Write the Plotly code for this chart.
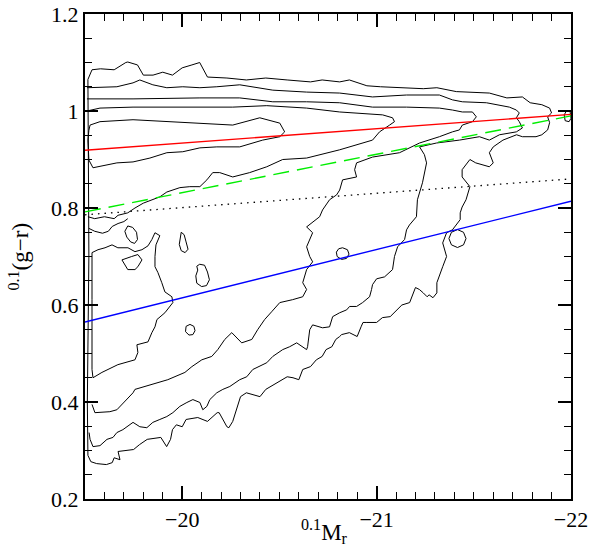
import plotly.graph_objects as go

# ---------------- straight relations (x = 0.1M_r, y = 0.1(g-r)) ----------------
line_mag = [-19.5, -22.0]
red_col = [0.919, 0.993]
green_col = [0.792, 0.990]
dotted_col = [0.786, 0.860]
blue_col = [0.565, 0.814]

# ---------------- contour paths ----------------
L1_mag = [-19.515, -19.536, -19.58, -19.65, -19.71, -19.72, -19.77, -19.80, -19.85, -19.90, -19.95, -20.00, -20.05, -20.09, -20.13, -20.23, -20.33, -20.43, -20.54, -20.66, -20.72, -20.81, -20.86, -20.95, -21.02, -21.12, -21.24, -21.31, -21.41, -21.58, -21.67, -21.75, -21.79, -21.85, -21.89, -21.90, -21.88, -21.89, -21.88, -21.85, -21.82, -21.75, -21.72, -21.65, -21.60, -21.58, -21.60, -21.58, -21.51, -21.48, -21.44, -21.44, -21.48, -21.46, -21.44, -21.43, -21.43, -21.39, -21.36, -21.34, -21.36, -21.34, -21.32, -21.31, -21.31, -21.29, -21.27, -21.26, -21.24, -21.22, -21.20, -21.18, -21.17, -21.13, -21.12, -21.10, -21.07, -21.03, -21.02, -21.00, -20.95, -20.93, -20.92, -20.91, -20.90, -20.86, -20.82, -20.81, -20.79, -20.77, -20.74, -20.72, -20.69, -20.66, -20.62, -20.60, -20.57, -20.54, -20.49, -20.43, -20.40, -20.33, -20.30, -20.26, -20.24, -20.23, -20.19, -20.18, -20.13, -20.08, -20.02, -20.00, -19.97, -19.95, -19.94, -19.92, -19.89, -19.82, -19.78, -19.75, -19.67, -19.68, -19.65, -19.64, -19.61, -19.56, -19.53, -19.515, -19.512, -19.515, -19.52, -19.518, -19.515, -19.515]
L1_col = [1.065, 1.085, 1.087, 1.085, 1.100, 1.101, 1.095, 1.074, 1.074, 1.080, 1.074, 1.089, 1.095, 1.100, 1.070, 1.068, 1.064, 1.068, 1.064, 1.060, 1.064, 1.060, 1.064, 1.052, 1.050, 1.048, 1.046, 1.048, 1.040, 1.037, 1.027, 1.029, 1.017, 1.013, 1.006, 0.996, 0.988, 0.976, 0.961, 0.951, 0.947, 0.947, 0.951, 0.940, 0.926, 0.914, 0.893, 0.885, 0.893, 0.900, 0.879, 0.864, 0.844, 0.817, 0.802, 0.790, 0.776, 0.755, 0.749, 0.728, 0.700, 0.679, 0.658, 0.646, 0.625, 0.615, 0.621, 0.617, 0.625, 0.632, 0.636, 0.617, 0.605, 0.600, 0.596, 0.590, 0.576, 0.574, 0.570, 0.564, 0.564, 0.564, 0.555, 0.543, 0.535, 0.543, 0.539, 0.535, 0.529, 0.514, 0.508, 0.494, 0.487, 0.473, 0.467, 0.446, 0.450, 0.452, 0.440, 0.426, 0.411, 0.419, 0.411, 0.360, 0.347, 0.349, 0.378, 0.378, 0.360, 0.368, 0.364, 0.349, 0.353, 0.343, 0.323, 0.308, 0.327, 0.323, 0.312, 0.302, 0.298, 0.281, 0.285, 0.275, 0.271, 0.273, 0.277, 0.290, 0.400, 0.550, 0.700, 0.850, 1.000, 1.065]

L2_mag = [-19.51, -19.664, -19.747, -19.782, -19.849, -19.921, -20.003, -20.091, -20.178, -20.296, -20.466, -20.640, -20.810, -20.979, -21.154, -21.323, -21.390, -21.441, -21.565, -21.616, -21.683, -21.719, -21.734, -21.719, -21.734, -21.750, -21.719, -21.632, -21.580, -21.529, -21.426, -21.308, -21.221, -21.246, -21.257, -21.236, -21.210, -21.205, -21.169, -21.154, -21.144, -21.108, -21.092, -21.082, -21.041, -21.000, -20.979, -20.974, -20.964, -20.928, -20.897, -20.861, -20.846, -20.810, -20.774, -20.758, -20.722, -20.671, -20.656, -20.645, -20.640, -20.589, -20.553, -20.517, -20.466, -20.435, -20.363, -20.332, -20.296, -20.245, -20.209, -20.178, -20.142, -20.127, -20.106, -20.091, -20.055, -20.024, -19.988, -19.952, -19.921, -19.885, -19.849, -19.818, -19.782, -19.747, -19.716, -19.695, -19.664, -19.644, -19.613, -19.577, -19.541, -19.526, -19.521]
L2_col = [1.048, 1.050, 1.058, 1.064, 1.054, 1.048, 1.050, 1.048, 1.050, 1.054, 1.043, 1.039, 1.037, 1.029, 1.033, 1.033, 1.023, 1.019, 1.017, 1.013, 1.008, 1.002, 0.996, 0.986, 0.978, 0.965, 0.957, 0.951, 0.940, 0.947, 0.940, 0.934, 0.926, 0.910, 0.893, 0.852, 0.817, 0.782, 0.765, 0.755, 0.735, 0.720, 0.700, 0.673, 0.658, 0.654, 0.642, 0.632, 0.617, 0.605, 0.597, 0.597, 0.590, 0.584, 0.576, 0.555, 0.553, 0.559, 0.549, 0.514, 0.508, 0.522, 0.514, 0.508, 0.494, 0.481, 0.467, 0.452, 0.446, 0.432, 0.426, 0.419, 0.405, 0.391, 0.384, 0.399, 0.405, 0.399, 0.391, 0.378, 0.370, 0.364, 0.358, 0.347, 0.349, 0.358, 0.349, 0.343, 0.337, 0.327, 0.323, 0.310, 0.308, 0.323, 0.337]

L3_mag = [-19.51, -19.747, -20.091, -20.296, -20.466, -20.640, -20.810, -20.979, -21.154, -21.323, -21.390, -21.441, -21.493, -21.513, -21.493, -21.441, -21.426, -21.390, -21.323, -21.272, -21.221, -21.118, -20.979, -20.897, -20.887, -20.897, -20.825, -20.810, -20.794, -20.758, -20.743, -20.722, -20.707, -20.671, -20.640, -20.671, -20.656, -20.640, -20.656, -20.671, -20.640, -20.620, -20.640, -20.620, -20.568, -20.502, -20.460, -20.424, -20.388, -20.358, -20.306, -20.255, -20.219, -20.183, -20.152, -20.101, -20.050, -20.014, -19.926, -19.844, -19.757, -19.747, -19.664, -19.628, -19.577, -19.551, -19.536]
L3_col = [1.025, 1.025, 1.027, 1.027, 1.019, 1.019, 1.017, 1.008, 1.008, 1.006, 1.002, 0.998, 0.998, 0.988, 0.978, 0.971, 0.961, 0.957, 0.947, 0.940, 0.934, 0.914, 0.905, 0.893, 0.879, 0.864, 0.858, 0.837, 0.827, 0.817, 0.807, 0.796, 0.782, 0.770, 0.761, 0.749, 0.735, 0.720, 0.700, 0.689, 0.673, 0.646, 0.632, 0.617, 0.611, 0.605, 0.586, 0.570, 0.549, 0.529, 0.522, 0.543, 0.529, 0.508, 0.494, 0.487, 0.473, 0.461, 0.446, 0.436, 0.426, 0.419, 0.384, 0.380, 0.378, 0.378, 0.395]

L4_mag = [-19.51, -19.577, -19.747, -19.921, -20.091, -20.260, -20.435, -20.640, -20.810, -20.897, -21.031, -21.082, -21.092, -21.067, -21.015, -20.979, -20.897, -20.810, -20.640, -20.517, -20.435, -20.347, -20.260, -20.193, -20.157, -20.127, -20.091, -20.039, -19.988, -19.921, -19.885, -19.849, -19.800, -19.757, -19.720, -19.670, -19.650, -19.600, -19.550, -19.515]
L4_col = [1.000, 1.006, 1.008, 1.008, 1.008, 1.008, 1.011, 1.006, 0.998, 0.996, 0.992, 0.986, 0.978, 0.971, 0.957, 0.940, 0.930, 0.920, 0.903, 0.900, 0.885, 0.873, 0.864, 0.873, 0.873, 0.858, 0.844, 0.844, 0.842, 0.833, 0.823, 0.817, 0.810, 0.800, 0.790, 0.785, 0.778, 0.782, 0.778, 0.782]

L5_mag = [-19.526, -19.577, -19.747, -19.921, -20.091, -20.260, -20.399, -20.502, -20.527, -20.502, -20.414, -20.296, -20.178, -20.091, -20.003, -19.921, -19.834, -19.747, -19.664, -19.577, -19.541, -19.520, -19.515, -19.520, -19.526]
L5_col = [0.971, 0.978, 0.982, 0.978, 0.975, 0.971, 0.986, 0.975, 0.957, 0.947, 0.940, 0.926, 0.926, 0.924, 0.916, 0.914, 0.903, 0.895, 0.893, 0.885, 0.883, 0.899, 0.940, 0.960, 0.971]

blob_mag = [-19.536, -19.567, -19.603, -19.639, -19.669, -19.721, -19.757, -19.793, -19.824, -19.844, -19.860, -19.885, -19.865, -19.860, -19.860, -19.875, -19.895, -19.911, -19.947, -19.952, -19.911, -19.870, -19.860, -19.844, -19.824, -19.767, -19.772, -19.757, -19.669, -19.587, -19.541, -19.536, -19.536, -19.536]
blob_col = [0.708, 0.714, 0.718, 0.724, 0.718, 0.718, 0.710, 0.714, 0.722, 0.735, 0.749, 0.743, 0.724, 0.700, 0.679, 0.667, 0.646, 0.627, 0.617, 0.605, 0.584, 0.570, 0.555, 0.543, 0.524, 0.518, 0.502, 0.487, 0.477, 0.461, 0.450, 0.467, 0.611, 0.708]

valley_mag = [-19.52, -19.55, -19.59, -19.62, -19.64, -19.67, -19.70, -19.72]
valley_col = [0.758, 0.752, 0.748, 0.752, 0.762, 0.768, 0.772, 0.778]

# small closed islands (mag list, colour list)
islands = [
    ([-21.416, -21.447, -21.460, -21.447, -21.416, -21.385, -21.372, -21.385, -21.416],
     [0.7555, 0.750, 0.737, 0.724, 0.7185, 0.724, 0.737, 0.750, 0.7555]),
    ([-20.825, -20.850, -20.858, -20.845, -20.820, -20.797, -20.793, -20.805, -20.825],
     [0.718, 0.714, 0.705, 0.696, 0.694, 0.700, 0.709, 0.716, 0.718]),
    ([-20.090, -20.115, -20.130, -20.140, -20.125, -20.100, -20.075, -20.070, -20.080, -20.075, -20.090],
     [0.684, 0.682, 0.668, 0.652, 0.640, 0.638, 0.645, 0.660, 0.672, 0.680, 0.684]),
    ([-20.040, -20.060, -20.066, -20.055, -20.035, -20.017, -20.020, -20.040],
     [0.560, 0.556, 0.547, 0.539, 0.538, 0.545, 0.556, 0.560]),
    ([-19.995, -20.010, -20.020, -20.030, -20.015, -19.995, -19.985, -19.990, -19.995],
     [0.750, 0.745, 0.730, 0.715, 0.708, 0.712, 0.725, 0.740, 0.750]),
    ([-19.720, -19.745, -19.765, -19.770, -19.755, -19.735, -19.715, -19.705, -19.720],
     [0.763, 0.760, 0.750, 0.735, 0.727, 0.730, 0.740, 0.752, 0.763]),
    ([-19.690, -19.710, -19.720, -19.757, -19.772, -19.793, -19.772, -19.740, -19.690],
     [0.693, 0.679, 0.673, 0.673, 0.679, 0.693, 0.704, 0.700, 0.693]),
    ([-21.965, -21.975, -21.995, -22.0, -21.99, -21.97, -21.965],
     [0.992, 0.999, 1.000, 0.985, 0.978, 0.980, 0.992]),
]

# axis titles
x_title = "<sup>0.1</sup>M<sub>r</sub>"
y_title = "<sup>0.1</sup>(g−r)"

fig = go.Figure()

def add_path(xs, ys, color="black", width=1.0, dash="solid"):
    fig.add_trace(go.Scatter(x=xs, y=ys, mode="lines",
                             line=dict(color=color, width=width, dash=dash),
                             hoverinfo="skip", showlegend=False))

for xs, ys in [(L1_mag, L1_col), (L2_mag, L2_col), (L3_mag, L3_col), (L4_mag, L4_col),
               (L5_mag, L5_col), (blob_mag, blob_col), (valley_mag, valley_col)]:
    add_path(xs, ys)
for xs, ys in islands:
    add_path(xs, ys)

add_path(line_mag, dotted_col, "black", 1.3, "1.5px,5px")
add_path(line_mag, blue_col, "#0000ff", 1.4)
add_path(line_mag, green_col, "#00ee00", 1.4, "16px,8px")
add_path(line_mag, red_col, "#ff0000", 1.4)

font_family = "Liberation Serif"
axis_common = dict(
    showline=True, linewidth=2, linecolor="black", mirror="allticks",
    ticks="inside", tickcolor="black", tickwidth=1.5, ticklen=13,
    showgrid=False, zeroline=False, automargin=False,
    ticklabeloverflow="allow",
    tickfont=dict(family=font_family, size=22, color="black"),
)

fig.update_layout(
    width=592, height=559,
    margin=dict(l=85, r=21, t=14, b=60),
    paper_bgcolor="white", plot_bgcolor="white",
    font=dict(family=font_family, color="black"),
    xaxis=dict(
        range=[-19.5, -22.0], tickmode="linear", tick0=-20, dtick=1,
        minor=dict(dtick=0.1, tick0=-20, ticks="inside", ticklen=7,
                   tickcolor="black", tickwidth=1.2, showgrid=False),
        **axis_common,
    ),
    yaxis=dict(
        range=[0.2, 1.2], tickmode="linear", tick0=0.2, dtick=0.2,
        minor=dict(dtick=0.05, tick0=0.2, ticks="inside", ticklen=7,
                   tickcolor="black", tickwidth=1.2, showgrid=False),
        **axis_common,
    ),
    annotations=[
        dict(text=x_title, xref="paper", yref="paper", x=0.5, y=0,
             xanchor="center", yanchor="middle", xshift=-4, yshift=-32,
             showarrow=False, font=dict(family=font_family, size=23, color="black")),
        dict(text=y_title, xref="paper", yref="paper", x=0, y=0.5,
             xanchor="center", yanchor="middle", xshift=-66, textangle=-90,
             showarrow=False, font=dict(family=font_family, size=23, color="black")),
    ],
)

# place the figure flush with the page corner (no default body margin)
fig.write_html("out.html", config={"displayModeBar": False},
               post_script="document.body.style.margin='0';document.body.style.overflow='hidden';")
